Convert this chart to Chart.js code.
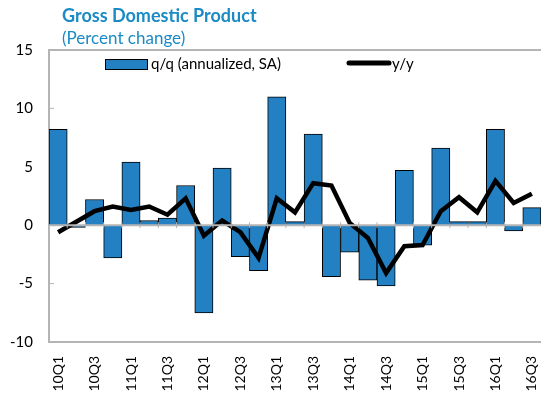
<!DOCTYPE html>
<html>
<head>
<meta charset="utf-8">
<script src="https://cdn.jsdelivr.net/npm/chart.js@4"></script>
<style>
  html, body { margin: 0; padding: 0; background: #fff; }
  #wrap { position: relative; width: 541px; height: 401px; overflow: hidden; }
  .title { position: absolute; left: 62px; top: 4px; font: bold 18px Lato, sans-serif; color: #1a8bc4; }
  .subtitle { position: absolute; left: 62px; top: 27px; font: 17px Lato, sans-serif; color: #1a8bc4; }
  canvas { position: absolute; left: 0; top: 0; }
</style>
</head>
<body>
<div id="wrap">
  <canvas id="gdpChart" width="541" height="401"></canvas>
  <div class="title">Gross Domestic Product</div>
  <div class="subtitle">(Percent change)</div>
</div>
<script>
// quarters 10Q1 .. 16Q3
const quarters = [
  '10Q1', '10Q2', '10Q3', '10Q4',
  '11Q1', '11Q2', '11Q3', '11Q4',
  '12Q1', '12Q2', '12Q3', '12Q4',
  '13Q1', '13Q2', '13Q3', '13Q4',
  '14Q1', '14Q2', '14Q3', '14Q4',
  '15Q1', '15Q2', '15Q3', '15Q4',
  '16Q1', '16Q2', '16Q3'
];

// q/q annualized, SA
const qoqValues = [
  8.2, -0.2, 2.2, -2.8,
  5.4, 0.4, 0.6, 3.4,
  -7.5, 4.9, -2.7, -3.9,
  11.0, 0.3, 7.8, -4.4,
  -2.3, -4.7, -5.2, 4.7,
  -1.7, 6.6, 0.3, 0.3,
  8.2, -0.5, 1.5
];

// y/y
const yoyValues = [
  -0.6, 0.3, 1.2, 1.6,
  1.3, 1.6, 0.9, 2.3,
  -0.9, 0.4, -0.6, -2.8,
  2.3, 1.1, 3.6, 3.4,
  0.2, -1.1, -4.1, -1.8,
  -1.7, 1.2, 2.4, 1.1,
  3.8, 1.9, 2.7
];

const yTicks = [-10, -5, 0, 5, 10, 15];

const BAR_BLUE = '#2280c3';
const AXIS_GRAY = '#b4b4b4';

// frame, zero line ticks and in-plot legend
const framePlugin = {
  id: 'frame',
  beforeDatasetsDraw(chart) {
    const { ctx, chartArea, scales } = chart;
    ctx.save();
    ctx.strokeStyle = AXIS_GRAY;
    ctx.lineWidth = 2;
    ctx.strokeRect(chartArea.left, chartArea.top, chartArea.right - chartArea.left + 5, chartArea.bottom - chartArea.top);
    // inward ticks on the y axis
    ctx.lineWidth = 1;
    yTicks.forEach(v => {
      const y = scales.y.getPixelForValue(v);
      ctx.beginPath();
      ctx.moveTo(chartArea.left, y);
      ctx.lineTo(chartArea.left + 5, y);
      ctx.stroke();
    });
    ctx.restore();
  },
  afterDatasetsDraw(chart) {
    const { ctx, chartArea, scales } = chart;
    const y0 = scales.y.getPixelForValue(0);
    ctx.save();
    ctx.strokeStyle = AXIS_GRAY;
    ctx.lineWidth = 2;
    ctx.beginPath();
    ctx.moveTo(chartArea.left, y0);
    ctx.lineTo(chartArea.right, y0);
    ctx.stroke();
    // small tick marks between categories
    ctx.lineWidth = 1;
    for (let i = 1; i < quarters.length; i++) {
      const x = (scales.x.getPixelForValue(i - 1) + scales.x.getPixelForValue(i)) / 2;
      ctx.beginPath();
      ctx.moveTo(x, y0 - 3);
      ctx.lineTo(x, y0 + 3);
      ctx.stroke();
    }
    ctx.restore();
  },
  afterDraw(chart) {
    const { ctx, chartArea } = chart;
    const top = chartArea.top;
    ctx.save();
    ctx.fillStyle = BAR_BLUE;
    ctx.strokeStyle = '#000';
    ctx.lineWidth = 1;
    ctx.fillRect(chartArea.left + 56, top + 9, 42, 10);
    ctx.strokeRect(chartArea.left + 56.5, top + 9.5, 42, 10);
    ctx.fillStyle = '#000';
    ctx.font = '15px Lato, sans-serif';
    ctx.textBaseline = 'middle';
    ctx.fillText('q/q (annualized, SA)', chartArea.left + 102, top + 14);
    ctx.lineWidth = 5;
    ctx.lineCap = 'round';
    ctx.beginPath();
    ctx.moveTo(chartArea.left + 300, top + 13);
    ctx.lineTo(chartArea.left + 340, top + 13);
    ctx.stroke();
    ctx.fillText('y/y', chartArea.left + 343, top + 14);
    ctx.restore();
  }
};

new Chart(document.getElementById('gdpChart').getContext('2d'), {
  type: 'bar',
  data: {
    labels: quarters,
    datasets: [
      {
        type: 'line',
        label: 'y/y',
        data: yoyValues,
        borderColor: '#000',
        borderWidth: 4.5,
        pointRadius: 0,
        tension: 0,
        order: 0
      },
      {
        label: 'q/q (annualized, SA)',
        data: qoqValues,
        backgroundColor: BAR_BLUE,
        borderColor: '#000',
        borderWidth: 1,
        barPercentage: 1,
        categoryPercentage: 1,
        order: 1
      }
    ]
  },
  options: {
    responsive: false,
    animation: false,
    layout: { padding: { top: 50, right: 0, left: 0, bottom: 0 } },
    plugins: {
      legend: { display: false },
      tooltip: { enabled: false }
    },
    scales: {
      x: {
        offset: true,
        grid: { display: false },
        border: { display: false },
        ticks: {
          autoSkip: false,
          maxRotation: 90,
          minRotation: 90,
          color: '#000',
          padding: 6,
          font: { family: 'Lato', size: 14 },
          callback: function(value, index) {
            return index % 2 === 0 ? quarters[index] : '';
          }
        },
        afterFit(scale) {
          scale.height = 59;
          scale.paddingLeft = 0;
          scale.paddingRight = 0;
        }
      },
      y: {
        min: -10,
        max: 15,
        grid: { display: false },
        border: { display: false },
        ticks: {
          stepSize: 5,
          color: '#000',
          padding: 8,
          font: { family: 'Lato', size: 15 }
        },
        afterFit(scale) { scale.width = 49; }
      }
    }
  },
  plugins: [framePlugin]
});
</script>
</body>
</html>
